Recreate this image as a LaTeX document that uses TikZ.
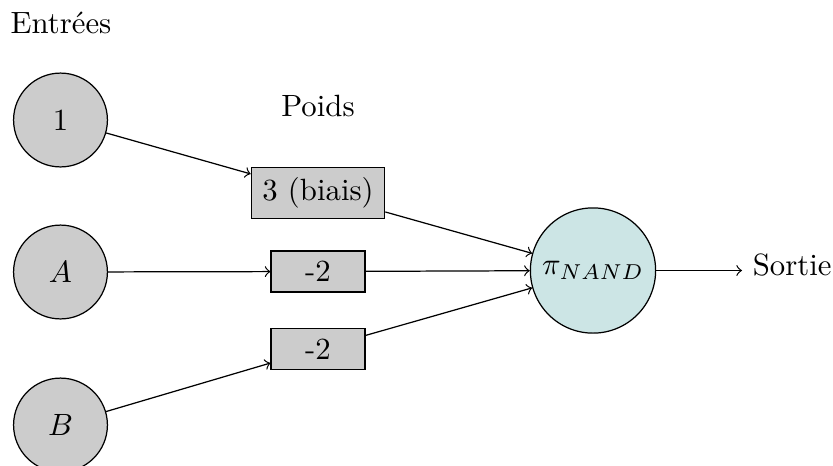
\documentclass[tikz,border=0pt]{standalone}
\begin{document}
\begin{tikzpicture}[x=0.325pt,y=-0.325pt,
  inp/.style={circle,draw,fill=black!20,minimum size=30.5pt,inner sep=0pt},
  wgt/.style={rectangle,draw,fill=black!20,minimum width=30.5pt,inner xsep=3.6pt},
  sum/.style={circle,draw,fill=teal!20,minimum size=40.7pt,inner sep=1pt},
  lbl/.style={anchor=base,inner sep=0pt},
  conn/.style={->}]
\useasboundingbox (0,0) rectangle (833,465);

% column titles
\node[lbl,anchor=base west] (tin) at (10,33) {Entrées};
\node[lbl] (tw) at (318,116.5) {Poids};

% inputs
\node[inp] (i1) at (60.5,120) {1};
\node[inp] (iA) at (60.5,272) {$A$};
\node[inp] (iB) at (60.5,425) {$B$};

% weights
\node[wgt] (w1) at (318,193) {3 (biais)};
\node[wgt] (wA) at (318,271.5) {-2};
\node[wgt] (wB) at (318,349) {-2};

% neuron
\node[sum] (n) at (593,270.5) {$\pi_{NAND}$};

% output label
\node[anchor=base west] (out) at (742,275) {Sortie};

% connections
\draw[conn] (i1) -- (w1);
\draw[conn] (iA) -- (wA);
\draw[conn] (iB) -- (wB);
\draw[conn] (w1) -- (n);
\draw[conn] (wA) -- (n);
\draw[conn] (wB) -- (n);
\draw[conn] (n) -- (n -| out.west);
\end{tikzpicture}
\end{document}
